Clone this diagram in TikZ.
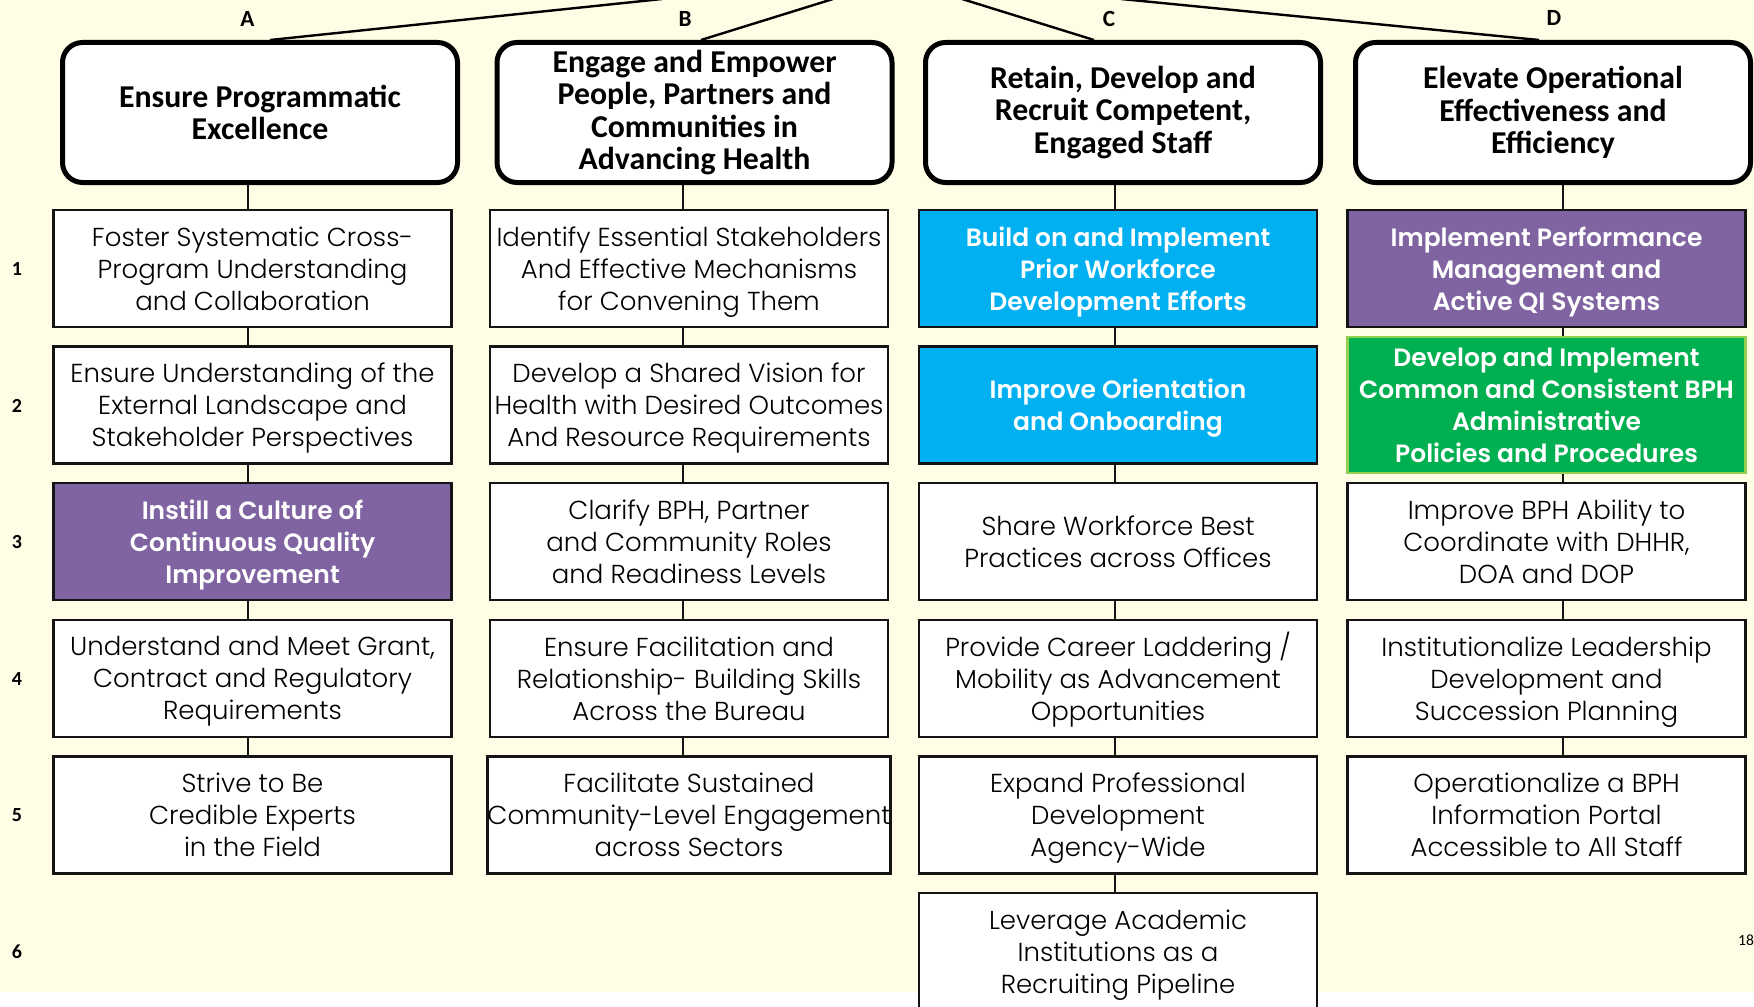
\documentclass[tikz,border=0pt]{standalone}
\usepackage{fontspec}
\setmainfont{Poppins}[UprightFont=* Light, BoldFont=* SemiBold]
\newfontfamily\hdrfont{Carlito}

\definecolor{cream}{RGB}{255,253,229}
\definecolor{boxline}{RGB}{20,20,20}
\definecolor{qiblue}{RGB}{0,176,240}
\definecolor{qipurple}{RGB}{128,100,162}
\definecolor{qigreen}{RGB}{0,176,80}
\definecolor{qigreenline}{RGB}{146,208,80}

\tikzset{
  goalbox/.style={draw=black, line width=2.5pt, rounded corners=10pt, fill=white,
    minimum width=197.5pt, minimum height=70pt, inner sep=0pt, align=center,
    font=\hdrfont\bfseries\fontsize{15.9}{16.2}\selectfont},
  % text depth=0pt: descenders of the last line do not lift the text block
  objbox/.style={draw=boxline, line width=1.25pt, fill=white,
    minimum width=199pt, minimum height=58.5pt, inner sep=0pt, align=center,
    text depth=0pt, font=\fontsize{13}{16}\selectfont},
  hotbox/.style={objbox, text=white, font=\bfseries\fontsize{12.5}{16}\selectfont},
  bluebox/.style={hotbox, fill=qiblue},
  purplebox/.style={hotbox, fill=qipurple},
  greenbox/.style={hotbox, fill=qigreen, draw=qigreenline, minimum height=68pt},
  link/.style={draw=boxline, line width=1pt},
  toplink/.style={draw=black, line width=1.2pt},
  collabel/.style={font=\hdrfont\bfseries\fontsize{11.6}{12}\selectfont, inner sep=0pt},
  rowlabel/.style={font=\hdrfont\bfseries\fontsize{10}{11}\selectfont, inner sep=0pt},
}

\begin{document}
\begin{tikzpicture}[x=0.5pt, y=-0.5pt]
  \useasboundingbox (0,0) rectangle (1754,1006);
  \fill[cream] (0,0) rectangle (1754,992);
  \fill[white] (0,992) rectangle (1754,1006);

  % column spines and the points where the upper links leave the frame
  \coordinate (xA) at (247.7,0);
  \coordinate (xB) at (683,0);
  \coordinate (xC) at (1115,0);
  \coordinate (xD) at (1563,0);
  \coordinate (tA) at (662,-1);
  \coordinate (tB) at (833,-1);
  \coordinate (tC) at (962,-1);
  \coordinate (tD) at (1121,-1);
  \coordinate (pA) at (270,0);
  \coordinate (pB) at (701,0);
  \coordinate (pC) at (1094,0);
  \coordinate (pD) at (1539,0);

  % goal boxes
  \node[goalbox] (hA) at (260,112.5) {Ensure Programmatic\\Excellence};
  \node[goalbox] (hB) at (694.5,112.5) {Engage and Empower\\People, Partners and\\Communities in\\Advancing Health};
  \node[goalbox] (hC) at (1123,112.5) {Retain, Develop and\\Recruit Competent,\\Engaged Staff};
  \node[goalbox] (hD) at (1553,112.5) {Elevate Operational\\Effectiveness and\\Efficiency};

  % column letters
  \node[collabel] (lA) at (247.5,18.5) {A};
  \node[collabel] (lB) at (685,18.5) {B};
  \node[collabel] (lC) at (1109,18.5) {C};
  \node[collabel] (lD) at (1554,18) {D};

  % row numbers
  \node[rowlabel] (r1) at (17,269.5) {1};
  \node[rowlabel] (r2) at (17,406) {2};
  \node[rowlabel] (r3) at (17,542.5) {3};
  \node[rowlabel] (r4) at (17,679) {4};
  \node[rowlabel] (r5) at (17,815.5) {5};
  \node[rowlabel] (r6) at (17,952) {6};

  % upper links
  \draw[toplink] (tA) -- (hA.north -| pA);
  \draw[toplink] (tB) -- (hB.north -| pB);
  \draw[toplink] (tC) -- (hC.north -| pC);
  \draw[toplink] (tD) -- (hD.north -| pD);

  % column A
  \node[objbox] (a1) at (252.5,268.5) {Foster Systematic Cross-\\Program Understanding\\and Collaboration};
  \node[objbox] (a2) at (252.5,405.1) {Ensure Understanding of the\\External Landscape and\\Stakeholder Perspectives};
  \node[purplebox] (a3) at (252.5,541.7) {Instill a Culture of\\Continuous Quality\\Improvement};
  \node[objbox] (a4) at (252.5,678.3) {Understand and Meet Grant,\\Contract and Regulatory\\Requirements};
  \node[objbox] (a5) at (252.5,814.9) {Strive to Be\\Credible Experts\\in the Field};

  % column B
  \node[objbox] (b1) at (689,268.5) {Identify Essential Stakeholders\\And Effective Mechanisms\\for Convening Them};
  \node[objbox] (b2) at (689,405.1) {Develop a Shared Vision for\\Health with Desired Outcomes\\And Resource Requirements};
  \node[objbox] (b3) at (689,541.7) {Clarify BPH, Partner\\and Community Roles\\and Readiness Levels};
  \node[objbox] (b4) at (689,678.3) {Ensure Facilitation and\\Relationship- Building Skills\\Across the Bureau};
  \node[objbox] (b5) at (689,814.9) {Facilitate Sustained\\Community-Level Engagement\\across Sectors};

  % column C
  \node[bluebox] (c1) at (1118,268.5) {Build on and Implement\\Prior Workforce\\Development Efforts};
  \node[bluebox] (c2) at (1118,405.1) {Improve Orientation\\and Onboarding};
  \node[objbox] (c3) at (1118,541.7) {Share Workforce Best\\Practices across Offices};
  \node[objbox] (c4) at (1118,678.3) {Provide Career Laddering \smash{/}\\Mobility as Advancement\\Opportunities};
  \node[objbox] (c5) at (1118,814.9) {Expand Professional\\Development\\Agency-Wide};
  \node[objbox] (c6) at (1118,951.5) {Leverage Academic\\Institutions as a\\Recruiting Pipeline};

  % column D
  \node[purplebox] (d1) at (1546.5,268.5) {Implement Performance\\Management and\\Active QI Systems};
  \node[greenbox] (d2) at (1546.5,405.1) {Develop and Implement\\Common and Consistent BPH\\Administrative\\Policies and Procedures};
  \node[objbox] (d3) at (1546.5,541.7) {Improve BPH Ability to\\Coordinate with DHHR,\\DOA and DOP};
  \node[objbox] (d4) at (1546.5,678.3) {Institutionalize Leadership\\Development and\\Succession Planning};
  \node[objbox] (d5) at (1546.5,814.9) {Operationalize a BPH\\Information Portal\\Accessible to All Staff};

  % vertical links down each column
  \draw[link] (hA.south -| xA) -- (a1.north -| xA);
  \draw[link] (hB.south -| xB) -- (b1.north -| xB);
  \draw[link] (hC.south -| xC) -- (c1.north -| xC);
  \draw[link] (hD.south -| xD) -- (d1.north -| xD);
  \foreach \i [count=\j from 2] in {1,...,4} {
    \draw[link] (a\i.south -| xA) -- (a\j.north -| xA);
    \draw[link] (b\i.south -| xB) -- (b\j.north -| xB);
    \draw[link] (d\i.south -| xD) -- (d\j.north -| xD);
  }
  \foreach \i [count=\j from 2] in {1,...,5}
    \draw[link] (c\i.south -| xC) -- (c\j.north -| xC);

  % page number
  \node[font=\hdrfont\fontsize{7.8}{9}\selectfont, inner sep=0pt] (pg) at (1746,940) {18};
\end{tikzpicture}
\end{document}
